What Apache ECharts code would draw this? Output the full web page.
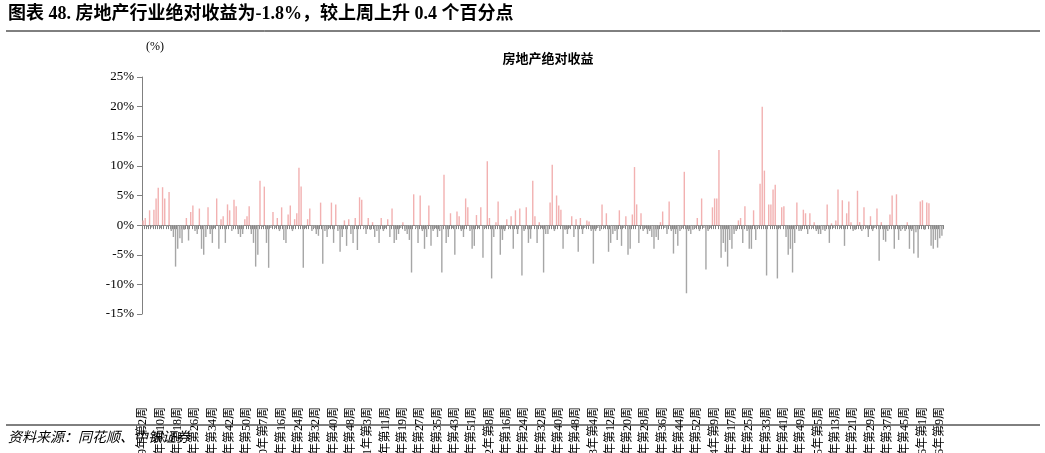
<!DOCTYPE html>
<html><head><meta charset="utf-8">
<script src="https://cdn.jsdelivr.net/npm/echarts@6/dist/echarts.min.js"></script>
<style>html,body{margin:0;padding:0;background:#fff}#c{width:1045px;height:453px}</style>
</head><body><div id="c"></div>
<script>
const anchorLabels = ["2019年第2周","2019年第10周","2019年第18周","2019年第26周","2019年第34周","2019年第42周","2019年第50周",
"2020年第7周","2020年第16周","2020年第24周","2020年第32周","2020年第40周","2020年第48周",
"2021年第3周","2021年第11周","2021年第19周","2021年第27周","2021年第35周","2021年第43周","2021年第51周",
"2022年第8周","2022年第16周","2022年第24周","2022年第32周","2022年第40周","2022年第48周",
"2023年第4周","2023年第12周","2023年第20周","2023年第28周","2023年第36周","2023年第44周","2023年第52周",
"2024年第9周","2024年第17周","2024年第25周","2024年第33周","2024年第41周","2024年第49周",
"2025年第5周","2025年第13周","2025年第21周","2025年第29周","2025年第37周","2025年第45周",
"2026年第1周","2026年第9周","2026年第17周","2026年第25周"];
const values = [
0.8,1.2,-0.3,2.5,-0.4,2.6,4.5,6.3,-0.5,6.4,
4.5,-0.3,5.6,-1,-2,-7,-4,-2.2,-3,-0.8,
1.2,-2.6,2.2,3.3,-1,-1.5,2.8,-4,-5,-2,
3,-1.5,-3,-0.5,4.5,-4,1,1.5,-3,3.5,
2.5,-1,4.3,3.2,-1.5,-2,-1.5,1,1.5,3.2,
-1.5,-3,-7,-5,7.5,-0.3,6.5,-3,-7.2,-0.5,
2.2,-0.5,1.2,-1,3,-2.5,-3,1.8,3.3,-1,
1,2,9.7,6.5,-7.2,-0.5,1,2.8,-1,-0.5,
-1.5,-1.8,3.8,-6.5,-1,-2,-0.5,3.8,-3,3.5,
-1,-4.5,-2,0.8,-3.5,1,-1.5,-3,1.2,-4.2,
4.7,4.3,-0.5,-1.5,1.2,-0.8,0.5,-2,-1,-3,
1.2,-1,-0.5,1,-2,2.8,-3,-2.5,-1.5,-0.5,
0.5,-1,-1.5,-2.5,-8,5.2,-0.5,-3,5,-1,
-4,-2,3.3,-3.5,-1,-0.5,-2,-1,-8,8.5,
-3,-2,2,-0.5,-5,2.3,1.5,-1,-2,4.5,
3,-1,-4,-3.5,1.7,-0.5,3,-5.5,-0.5,10.8,
1.2,-9,-2,0.5,4,-5,-2.5,-1,1,-0.5,
1.5,-4,2.5,-1.5,2.8,-8.5,-1,3,-3,-2.3,
7.5,1.5,-3,0.5,-0.5,-8,-1.5,-1.5,3.8,10.2,
-1,5,3.3,2.6,-4,-0.8,-1.5,-0.5,1.5,-2,
1,-4.5,1.2,-1.5,-0.5,0.8,0.6,-1,-6.5,-1,
-0.5,-1,3.5,-0.5,2,-4.5,-3,-1.5,-1,-2.5,
2.5,-3.5,-0.5,1.5,-5,-4,1.8,9.8,3.5,-3,
2,-1,-0.5,-1.5,-1,-2,-4,-2,-2.5,0.5,
2.3,-0.5,-1.5,4,-1,-4.8,-1.5,-3.5,-1,-0.5,
9,-11.5,-1,-1.5,-0.8,-0.5,1.2,-1,4.5,-0.5,
-7.5,-1,-0.5,3,4.5,4.5,12.7,-5.5,-3,-4.5,
-7,-2.5,-4,-1.5,-1,0.8,1.2,-3,3.2,-1,
-4,-4,2.5,-2.5,-0.5,7,20,9.2,-8.5,3.5,
3.5,6,6.8,-9,-0.5,3,3.2,-2,-5,-4,
-8,-3,3.8,-1,-1,2.6,2,-1.5,2,-0.5,
0.5,-1,-1.5,-1.5,-0.8,-1,3.5,-3,0.3,-0.5,
0.8,6,-0.5,4.2,-3.5,2,4,0.5,-1,-0.8,
5.8,0.5,-1,3,-0.5,-2,1.5,-1,-0.5,2.8,
-6,0.5,-2.5,-2.8,-1,1.8,5,-4,5.2,-2.5,
-1,-0.5,-1,0.5,-4,-1,-4.8,-1.2,-5.5,4,
4.2,-0.8,3.8,3.7,-3.5,-4,-2.5,-3.8,-2.2,-1.8];

// weekly category names between the anchor labels
const categories = [];
for (let i = 0; i < values.length; i++) {
  const a = Math.floor(i / 8), k = i % 8;
  const idx = Math.min(a, anchorLabels.length - 1);
  const m = anchorLabels[idx].match(/(\d+)年第(\d+)周/);
  let y = +m[1], w = +m[2] + k + 8 * (a - idx);
  if (w > 52) { w -= 52; y += 1; }
  categories.push(k === 0 && a < anchorLabels.length ? anchorLabels[a] : y + "年第" + w + "周");
}

const chart = echarts.init(document.getElementById('c'));
const serif = "'Liberation Serif','Noto Sans CJK SC',serif";
chart.setOption({
  animation: false,
  grid: {left: 142, right: 102, top: 77, bottom: 139, outerBoundsMode: 'none', containLabel: false},
  title: {text: '房地产绝对收益', left: 543, top: 47, textAlign: 'center',
    textStyle: {fontSize: 13, fontWeight: 'bold', color: '#000', fontFamily: "'Noto Sans CJK SC',sans-serif"}},
  graphic: [
    {type: 'text', left: 8, top: 5, style: {text: '图表 48. 房地产行业绝对收益为-1.8%，较上周上升 0.4 个百分点',
      font: "bold 18px 'Liberation Serif','Noto Sans CJK SC',serif", fill: '#000'}},
    {type: 'line', shape: {x1: 6, y1: 31, x2: 1040, y2: 31}, style: {stroke: '#000', lineWidth: 1}},
    {type: 'line', shape: {x1: 6, y1: 425, x2: 1040, y2: 425}, style: {stroke: '#000', lineWidth: 1}},
    {type: 'text', left: 8, top: 430, style: {text: '资料来源：同花顺、中银证券',
      font: "italic 14px 'Noto Sans CJK SC',serif", fill: '#000'}},
    {type: 'text', left: 146, top: 41, style: {text: '(%)', font: "12px " + serif, fill: '#000'}}
  ],
  xAxis: {type: 'category', data: categories,
    axisLine: {onZero: true, lineStyle: {color: '#808080'}},
    axisTick: {show: true, interval: 0, length: 4, lineStyle: {color: '#808080'}},
    axisLabel: {interval: 7, rotate: 90, color: '#000', fontSize: 12, fontFamily: serif, margin: 93, hideOverlap: false}},
  yAxis: {type: 'value', min: -15, max: 25, interval: 5,
    splitLine: {show: false},
    axisLine: {show: true, lineStyle: {color: '#808080'}},
    axisTick: {show: true, length: 5, lineStyle: {color: '#808080'}},
    axisLabel: {formatter: '{value}%', color: '#000', fontSize: 13, fontFamily: serif}},
  series: [{type: 'bar', data: values, barCategoryGap: '35%',
    itemStyle: {color: p => p.value >= 0 ? '#f2b1b1' : '#a6a6a6'}}]
});
</script></body></html>
